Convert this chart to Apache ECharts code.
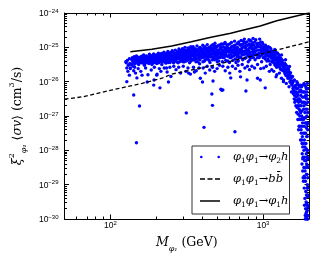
<!DOCTYPE html>
<html><head><meta charset="utf-8">
<script src="https://cdn.jsdelivr.net/npm/echarts@6/dist/echarts.min.js"></script>
<style>html,body{margin:0;padding:0;background:#fff}#c{width:317px;height:264px}</style>
</head><body><div id="c"></div>
<script>
// ---- data (mass in GeV, log10 of cross section in cm^3/s) ----
const xMajorTicks = [100, 1000];
const yMajorExponents = [-30, -29, -28, -27, -26, -25, -24];
const minorMantissas = [2, 3, 4, 5, 6, 7, 8, 9];
const xRange = [50, 2000];
const yUnitExp = -30; // y axis is drawn in units of 1e-30 cm^3/s

const phi1hLine = [[135,-25.127],[187,-25.057],[252,-24.961],[339,-24.836],[456,-24.708],[614,-24.591],[712,-24.516],[959,-24.379],[1230,-24.224],[1576,-24.108],[2000,-24.0]];
const bbLine = [[50,-26.51],[66,-26.44],[103,-26.24],[161,-26.05],[217,-25.9],[252,-25.78],[456,-25.54],[826,-25.27],[1360,-25.03],[2000,-24.84]];

const phi2hPoints = [
[126,-25.42],[127,-25.45],[128,-25.6],[128,-26.0],[129,-25.38],[130,-25.7],[131,-25.52],[133,-25.33],[134,-25.47],[135,-25.62],[133,-25.81],[135,-25.6],
[139,-25.3],[140,-25.42],[141,-25.55],[143,-25.27],[144,-25.38],[145,-25.48],[147,-25.33],[148,-25.25],[150,-25.43],[151,-25.36],[153,-25.5],[154,-25.29],[156,-25.4],[157,-25.34],[159,-25.45],[160,-25.26],[161,-25.38],[142,-25.68],[146,-25.75],[152,-25.62],[158,-25.7],[149,-25.89],[161,-25.81],
[138,-25.36],[142,-25.44],[146,-25.3],[149,-25.38],[152,-25.46],[155,-25.35],[158,-25.3],[160,-25.42],[137,-25.5],[144,-25.58],
[162,-25.32],[163,-25.42],[165,-25.22],[166,-25.36],[168,-25.48],[169,-25.3],[171,-25.4],[172,-25.25],[174,-25.34],[175,-25.45],[177,-25.28],[178,-25.38],[180,-25.2],[181,-25.33],[183,-25.43],[184,-25.27],[186,-25.36],[187,-25.5],[170,-25.6],[176,-25.8],[185,-25.66],[174,-26.01],
[164,-25.28],[167,-25.44],[170,-25.35],[173,-25.3],[176,-25.4],[179,-25.47],[182,-25.24],[185,-25.42],[187,-25.31],[167,-25.52],
[189,-25.25],[190,-25.38],[192,-25.19],[193,-25.31],[195,-25.44],[196,-25.27],[198,-25.36],[200,-25.22],[201,-25.47],[203,-25.3],[205,-25.4],[206,-25.17],[208,-25.34],[210,-25.26],[212,-25.42],[213,-25.21],[215,-25.32],[217,-25.5],[194,-25.58],[202,-25.78],[209,-25.62],[214,-25.7],[193,-25.95],[201,-25.81],[211,-26.18],
[188,-25.34],[191,-25.45],[194,-25.24],[197,-25.41],[199,-25.3],[204,-25.24],[207,-25.45],[211,-25.36],[214,-25.27],[216,-25.4],
[219,-25.2],[221,-25.33],[222,-25.42],[224,-25.14],[226,-25.28],[227,-25.37],[229,-25.23],[231,-25.46],[233,-25.17],[234,-25.3],[236,-25.39],[238,-25.12],[240,-25.25],[242,-25.35],[244,-25.2],[246,-25.44],[248,-25.15],[250,-25.29],[252,-25.38],[225,-25.6],[235,-25.72],[245,-25.58],[249,-25.85],[233,-25.6],[240,-26.01],
[218,-25.3],[223,-25.22],[228,-25.42],[230,-25.3],[232,-25.22],[237,-25.3],[239,-25.44],[241,-25.18],[243,-25.28],[247,-25.34],[251,-25.22],
[254,-25.1],[256,-25.22],[258,-25.33],[260,-25.42],[262,-25.16],[264,-25.27],[266,-25.08],[268,-25.36],[270,-25.2],[272,-25.3],[275,-25.12],[277,-25.45],[279,-25.24],[281,-25.05],[283,-25.34],[285,-25.18],[287,-25.28],[290,-25.1],[292,-25.4],[260,-25.55],[269,-25.65],[280,-25.58],[288,-25.75],
[255,-25.3],[257,-25.14],[259,-25.45],[263,-25.36],[265,-25.2],[267,-25.28],[271,-25.42],[274,-25.24],[276,-25.33],[278,-25.15],[282,-25.28],[284,-25.42],[286,-25.1],[289,-25.35],[291,-25.22],
[294,-25.22],[296,-25.04],[298,-25.32],[301,-25.14],[303,-25.26],[305,-25.42],[308,-25.0],[310,-25.18],[313,-25.3],[315,-25.08],[318,-25.37],[320,-25.2],[323,-25.02],[325,-25.27],[328,-25.12],[330,-25.45],[333,-25.22],[336,-24.98],[339,-25.33],[300,-25.55],[312,-25.7],[322,-25.6],[334,-25.78],[325,-25.75],[314,-26.91],
[295,-25.3],[297,-25.14],[299,-25.42],[302,-25.2],[304,-25.08],[307,-25.35],[309,-25.25],[311,-25.1],[314,-25.4],[317,-25.16],[319,-25.28],[322,-25.12],[324,-25.36],[327,-25.2],[329,-25.05],[331,-25.3],[335,-25.14],[337,-25.4],
[342,-25.1],[345,-25.25],[348,-24.98],[351,-25.36],[354,-25.16],[357,-25.04],[360,-25.28],[363,-25.42],[366,-25.12],[369,-24.96],[372,-25.22],[375,-25.32],[378,-25.06],[381,-25.18],[384,-25.48],[387,-25.0],[390,-25.26],[393,-25.14],[350,-25.58],[365,-25.68],[380,-25.6],[388,-25.9],[355,-25.72],
[340,-25.2],[344,-25.04],[346,-25.36],[349,-25.18],[352,-25.1],[356,-25.3],[359,-25.2],[362,-25.06],[365,-25.34],[368,-25.22],[371,-25.08],[374,-25.42],[377,-25.16],[380,-25.28],[383,-25.02],[386,-25.36],[389,-25.12],[392,-25.24],
[396,-25.04],[400,-25.2],[403,-24.94],[406,-25.3],[410,-25.1],[413,-25.4],[417,-24.98],[420,-25.16],[424,-25.26],[427,-25.06],[431,-24.92],[434,-25.34],[438,-25.12],[441,-25.22],[445,-25.0],[449,-25.44],[452,-25.18],[456,-24.96],[405,-25.6],[418,-25.75],[430,-25.55],[447,-25.66],[401,-26.01],[410,-27.33],
[398,-25.3],[401,-25.1],[404,-25.42],[408,-25.18],[411,-25.02],[415,-25.26],[419,-25.36],[422,-25.08],[426,-25.18],[429,-25.3],[432,-25.14],[436,-25.02],[439,-25.26],[443,-25.38],[447,-25.1],[450,-25.28],[454,-25.06],
[460,-25.1],[464,-25.28],[468,-24.92],[472,-25.2],[476,-25.04],[480,-25.36],[484,-24.88],[489,-25.14],[493,-25.24],[497,-24.98],[501,-25.42],[506,-25.08],[510,-25.3],[514,-24.94],[519,-25.18],[524,-25.02],[529,-25.26],[466,-25.58],[482,-25.7],[500,-25.62],[518,-25.52],[470,-25.98],[462,-26.36],[466,-26.69],[529,-26.22],[537,-26.25],
[458,-25.2],[462,-25.02],[466,-25.36],[470,-25.1],[474,-25.3],[478,-25.16],[482,-24.96],[486,-25.26],[491,-25.06],[495,-25.34],[499,-25.16],[503,-24.96],[508,-25.22],[512,-25.4],[516,-25.08],[521,-25.3],[526,-24.92],
[534,-24.9],[539,-25.12],[544,-25.3],[549,-24.98],[554,-25.2],[559,-25.06],[564,-24.86],[569,-25.38],[574,-25.15],[579,-25.0],[585,-25.26],[590,-24.92],[596,-25.1],[602,-25.44],[608,-25.04],[614,-25.22],[545,-25.55],[565,-25.68],[588,-25.58],[605,-25.75],[614,-25.89],[545,-26.24],
[531,-25.04],[536,-25.2],[541,-25.42],[546,-25.1],[551,-24.9],[556,-25.3],[561,-25.18],[566,-25.02],[571,-25.24],[577,-24.92],[582,-25.1],[587,-25.4],[593,-25.02],[599,-25.22],[605,-24.9],[611,-25.12],
[620,-24.86],[626,-25.08],[632,-25.26],[638,-24.96],[644,-25.16],[650,-24.82],[656,-25.34],[662,-25.02],[668,-25.2],[674,-24.9],[681,-25.12],[688,-25.4],[694,-24.84],[701,-25.06],[708,-25.28],[712,-24.94],[630,-25.55],[660,-25.62],[685,-25.52],[705,-25.7],[712,-25.86],[654,-27.46],
[617,-25.3],[623,-24.98],[629,-25.16],[635,-25.38],[641,-25.06],[647,-25.24],[653,-24.94],[659,-25.12],[665,-25.44],[671,-25.06],[677,-25.28],[684,-24.88],[690,-25.18],[697,-25.3],[704,-24.92],[710,-25.14],
[719,-24.8],[726,-25.02],[733,-25.22],[740,-24.9],[747,-25.12],[754,-24.76],[762,-25.32],[769,-25.0],[777,-25.18],[784,-24.84],[792,-25.08],[800,-25.42],[808,-24.78],[816,-25.26],[822,-24.96],[826,-25.14],[730,-25.5],[760,-25.6],[790,-25.55],[815,-25.65],[785,-25.95],[772,-26.27],
[715,-25.3],[722,-24.92],[729,-25.12],[736,-25.36],[743,-24.82],[750,-25.0],[758,-25.2],[765,-24.86],[773,-25.3],[780,-25.06],[788,-24.94],[796,-25.24],[804,-25.1],[812,-24.9],[819,-25.36],[824,-24.8],
[835,-24.82],[843,-25.04],[852,-25.24],[860,-24.74],[869,-24.94],[878,-25.14],[887,-25.36],[896,-24.78],[905,-25.0],[914,-25.2],[923,-24.88],[932,-25.08],[941,-25.3],[950,-24.76],[960,-24.98],[970,-25.16],[979,-25.42],[988,-24.86],[845,-25.55],[880,-25.6],[920,-25.5],[965,-25.62],[959,-25.95],[920,-25.9],
[830,-25.3],[839,-24.92],[847,-25.14],[856,-24.88],[864,-25.3],[873,-25.04],[882,-24.84],[891,-25.22],[900,-25.1],[909,-24.9],[918,-25.3],[927,-24.98],[936,-25.18],[946,-24.9],[955,-25.26],[965,-24.84],[974,-25.06],[984,-25.22],
[998,-24.9],[1008,-25.1],[1018,-25.28],[1028,-25.02],[1038,-24.94],[1048,-25.2],[1059,-25.4],[1070,-25.06],[1080,-24.98],[1091,-25.26],[1102,-25.14],[1113,-25.5],[1124,-25.04],[1135,-25.32],[1146,-25.2],[1010,-25.6],[1050,-25.55],[1100,-25.7],[1140,-25.65],[1033,-26.18],
[993,-25.04],[1003,-25.3],[1013,-24.98],[1023,-25.16],[1033,-25.34],[1043,-25.08],[1054,-25.0],[1064,-25.24],[1075,-25.34],[1086,-25.12],[1097,-25.4],[1108,-25.26],[1119,-25.2],[1130,-25.1],[1141,-25.42],
[1158,-25.12],[1170,-25.3],[1181,-25.46],[1193,-25.06],[1205,-25.22],[1216,-25.38],[1228,-25.58],[1240,-25.16],[1253,-25.3],[1266,-25.5],[1278,-25.24],[1291,-25.42],[1304,-25.64],[1317,-25.34],[1330,-25.52],[1175,-25.7],[1230,-25.8],[1280,-25.75],[1320,-25.9],[1216,-25.86],[1360,-26.0],
[1152,-25.24],[1164,-25.4],[1176,-25.18],[1187,-25.3],[1199,-25.52],[1210,-25.14],[1222,-25.46],[1234,-25.3],[1246,-25.44],[1259,-25.2],[1272,-25.38],[1284,-25.58],[1297,-25.3],[1310,-25.48],[1324,-25.66],
[1343,-25.38],[1357,-25.56],[1370,-25.7],[1384,-25.46],[1398,-25.62],[1411,-25.82],[1425,-25.54],[1440,-25.72],[1454,-25.9],[1468,-25.64],[1483,-25.8],[1498,-26.0],[1513,-25.74],[1528,-25.9],[1543,-26.1],[1360,-25.95],[1420,-26.05],[1480,-26.15],[1535,-26.3],
[1336,-25.48],[1350,-25.66],[1364,-25.5],[1377,-25.6],[1391,-25.76],[1404,-25.5],[1418,-25.7],[1432,-25.64],[1447,-25.84],[1461,-25.76],[1476,-25.7],[1490,-25.9],[1505,-25.86],[1520,-26.04],[1536,-25.98],
[140,-25.34],[145,-25.4],[150,-25.31],[156,-25.37],[162,-25.4],[168,-25.34],[174,-25.38],[180,-25.3],[186,-25.26],[192,-25.36],[198,-25.28],[205,-25.33],[212,-25.24],[219,-25.36],[226,-25.22],[233,-25.32],[240,-25.22],[248,-25.3],[256,-25.24],[264,-25.18],[272,-25.26],[281,-25.16],[290,-25.24],[299,-25.22],[308,-25.1],[318,-25.24],[328,-25.18],[338,-25.1],[348,-25.22],[359,-25.14],[370,-25.08],[381,-25.24],[393,-25.06],[405,-25.14],[418,-25.2],[431,-25.08],[444,-25.16],[458,-25.04],[472,-25.12],[487,-25.2],[502,-25.08],[517,-25.14],[533,-25.0],[549,-25.14],[566,-25.22],[583,-25.06],[601,-25.14],[620,-25.0],[639,-25.1],[659,-25.18],[679,-25.0],[700,-25.14],[722,-25.06],[744,-24.98],[767,-25.1],[790,-25.16],[814,-25.02],[839,-24.98],[865,-25.08],[891,-25.0],[918,-24.96],[946,-25.08],[975,-24.96],[1005,-25.18],[1036,-25.12],[1068,-25.16],[1101,-25.24],[1135,-25.14],[1170,-25.22],[1206,-25.3],[1243,-25.38],[1281,-25.34],[1320,-25.44],[1360,-25.58],[1402,-25.66],[1445,-25.62],[1490,-25.8],[1535,-25.84],
[143,-25.46],[153,-25.44],[165,-25.47],[178,-25.42],[190,-25.22],[203,-25.4],[216,-25.18],[230,-25.38],[245,-25.36],[261,-25.32],[277,-25.2],[295,-25.38],[313,-25.22],[333,-25.3],[354,-25.26],[376,-25.16],[399,-25.22],[423,-25.04],[449,-25.24],[477,-25.0],[507,-25.3],[539,-25.24],[572,-25.12],[607,-25.3],[645,-25.0],[685,-25.24],[727,-25.2],[772,-24.94],[820,-25.2],[870,-25.18],[923,-25.22],[980,-25.1],[1040,-25.26],[1105,-25.0],[1173,-25.36],[1245,-25.52],[1322,-25.22],[1403,-25.36],[1490,-25.56],
[1560,-25.85],[1575,-26.0],[1590,-26.15],[1605,-25.95],[1620,-26.3],[1635,-26.1],[1650,-26.45],[1580,-26.35],[1615,-26.6],[1570,-26.2],[1600,-26.5],[1640,-26.7],[1660,-26.9],
[1665,-26.0],[1680,-26.2],[1695,-26.4],[1710,-26.6],[1725,-26.8],[1740,-27.0],[1700,-26.1],[1730,-26.5],[1745,-27.3],[1690,-26.7],[1720,-27.1],[1670,-26.35],[1700,-26.95],[1750,-26.25],[1690,-27.1],[1710,-27.4],
[1760,-26.1],[1770,-26.4],[1780,-26.7],[1790,-27.0],[1800,-27.3],[1810,-27.6],[1820,-27.9],[1830,-28.2],[1765,-26.9],[1795,-26.6],[1815,-27.2],[1840,-27.5],[1850,-28.0],[1775,-27.4],[1805,-28.1],[1835,-26.3],[1845,-26.8],[1790,-26.15],[1830,-26.6],[1760,-27.7],[1780,-27.5],[1800,-27.8],[1840,-27.1],
[1860,-26.3],[1870,-26.6],[1880,-26.9],[1890,-27.2],[1900,-27.5],[1910,-27.8],[1920,-28.1],[1930,-28.4],[1940,-28.7],[1950,-29.0],[1960,-29.3],[1955,-29.6],[1945,-29.9],[1865,-27.7],[1875,-28.3],[1885,-28.6],[1895,-28.9],[1905,-29.2],[1915,-29.5],[1925,-29.8],[1935,-27.0],[1948,-27.6],[1958,-28.0],[1962,-28.5],[1908,-26.8],[1928,-26.5],[1890,-30.0],
[1870,-26.1],[1900,-26.4],[1920,-26.2],[1950,-26.5],[1960,-26.9],[1940,-26.3],[1860,-27.3],[1880,-27.9],[1910,-27.2],[1930,-27.6],[1950,-28.2],[1960,-27.4],
[1800,-28.4],[1820,-28.6],[1840,-28.9],[1860,-29.1],[1880,-29.4],[1900,-29.7],[1920,-29.95],[1940,-29.1],[1960,-28.8],[1955,-29.35],[1870,-28.2],[1850,-28.5],[1830,-28.8],[1910,-28.3],[1935,-28.0],[1950,-29.75],[1962,-29.9],[1890,-29.9],[1925,-29.3],
[1555,-26.05],[1585,-26.25],[1610,-26.4],[1630,-26.55],[1655,-26.2],[1675,-26.55],[1685,-26.05],[1715,-26.3],[1735,-26.7],[1755,-26.55],[1785,-26.3],[1810,-26.45],[1825,-27.05],[1855,-26.7],[1885,-26.45],[1915,-26.65],[1945,-26.8],[1958,-26.2],[1965,-27.2],[1895,-27.05],[1925,-27.35],[1870,-27.5],[1845,-27.8],[1915,-27.95],[1945,-28.45],[1900,-28.5],[1880,-28.8],[1965,-29.1],[1932,-29.55],[1910,-29.85],[1870,-29.6],[1858,-28.75],[1925,-28.7],[1965,-29.65],[1963,-30.0],[1940,-30.0],[1820,-28.25],[1790,-27.7],[1775,-27.1],[1745,-26.85],[1722,-27.3],[1800,-26.85],[1960,-28.25],[1945,-27.25],[1950,-26.05],[1905,-26.15],[1850,-26.45],
[1625,-26.15],[1648,-26.3],[1672,-26.75],[1705,-26.5],[1738,-26.15],[1768,-26.25],[1812,-26.1],[1858,-26.05],[1895,-26.3],[1932,-26.4],[1962,-26.6],
[142,-26.39],[155,-26.71],[148,-27.78],[192,-26.10]
];

// ---- build ----
const toVal = p => [p[0], Math.pow(10, p[1] - yUnitExp)];
const xMinor = [];
[10, 100, 1000].forEach(d => minorMantissas.forEach(m => { const v = m * d; if (v > xRange[0] && v < xRange[1]) xMinor.push(v); }));
const yMajor = yMajorExponents.map(e => Math.pow(10, e - yUnitExp));
const yMinor = [];
yMajorExponents.slice(0, -1).forEach(e => minorMantissas.forEach(m => yMinor.push(m * Math.pow(10, e - yUnitExp))));

const tickFont = 'Liberation Sans';
const labelRich = {
  b: { fontFamily: tickFont, fontSize: 8.5, color: '#000', lineHeight: 10, verticalAlign: 'bottom' },
  s: { fontFamily: tickFont, fontSize: 6, color: '#000', lineHeight: 10, verticalAlign: 'top' }
};
const xLabel = v => { const e = Math.round(Math.log10(v)); return '{b|10}{s|' + e + '}'; };
const yLabel = v => { const e = Math.round(Math.log10(v)) + yUnitExp; return '{b|10}{s|' + String(e).replace('-', '\u2212') + '}'; };

const serif = 'DejaVu Serif';
const nameRich = {
  i: { fontFamily: serif, fontStyle: 'italic', fontSize: 12.5, color: '#000', lineHeight: 20 },
  n: { fontFamily: serif, fontSize: 12.5, color: '#000', lineHeight: 20 },
  sup: { fontFamily: serif, fontSize: 8, color: '#000', lineHeight: 20, verticalAlign: 'top' },
  sub: { fontFamily: serif, fontStyle: 'italic', fontSize: 8, color: '#000', lineHeight: 20, verticalAlign: 'bottom' }
};
const legRich = {
  i: { fontFamily: serif, fontStyle: 'italic', fontSize: 11.5, color: '#000', lineHeight: 16 },
  n: { fontFamily: serif, fontSize: 11.5, color: '#000', lineHeight: 16 },
  s: { fontFamily: serif, fontSize: 7.5, color: '#000', lineHeight: 16, verticalAlign: 'bottom' }
};
const legendText = {
  'phi2h': '{i|\u03c6}{s|1}{i|\u03c6}{s|1}{n|\u2192}{i|\u03c6}{s|2}{i|h}',
  'bb': '{i|\u03c6}{s|1}{i|\u03c6}{s|1}{n|\u2192}{i|b}{i|b\u0304}',
  'phi1h': '{i|\u03c6}{s|1}{i|\u03c6}{s|1}{n|\u2192}{i|\u03c6}{s|1}{i|h}'
};

const axLine = { show: true, lineStyle: { color: '#000', width: 1 } };
function mkAx(range, fmt, margin) {
  return function (pos, ticks, len, showLine, label, extra) {
    return Object.assign({ type: 'log', logBase: 10, min: range[0], max: range[1], position: pos,
      axisLine: showLine ? axLine : { show: false },
      axisTick: { show: true, inside: true, length: len, customValues: ticks, lineStyle: { color: '#000', width: 1 } },
      axisLabel: label ? { show: true, customValues: ticks, formatter: fmt, rich: labelRich, margin: margin } : { show: false },
      splitLine: { show: false }, minorTick: { show: false } }, extra || {});
  };
}
const xAx = mkAx(xRange, xLabel, 1);
const yAx = mkAx([Math.pow(10, yMajorExponents[0] - yUnitExp), Math.pow(10, yMajorExponents[yMajorExponents.length - 1] - yUnitExp)], yLabel, 6);

const chart = echarts.init(document.getElementById('c'), null, { renderer: 'canvas' });
chart.setOption({
  animation: false,
  backgroundColor: '#fff',
  grid: { left: 61, right: 8, top: 13, bottom: 45, containLabel: false },
  xAxis: [
    xAx('bottom', xMajorTicks, 4.5, true, true, {
      name: '{i|M}{sub|\u03c6\u2081}{n| (GeV)}', nameLocation: 'middle', nameGap: 14,
      nameTextStyle: { rich: nameRich }
    }),
    xAx('bottom', xMinor, 2.5, false, false),
    xAx('top', xMajorTicks, 4.5, true, false),
    xAx('top', xMinor, 2.5, false, false)
  ],
  yAxis: [
    yAx('left', yMajor, 4.5, true, true, {
      name: '{i|\u03be}{sup|2}{sub|\u03c6\u2081}{n| \u27e8}{i|\u03c3v}{n|\u27e9 (cm}{sup|3}{n|/s)}', nameLocation: 'middle', nameGap: 31, nameRotate: 90,
      nameTextStyle: { rich: nameRich }
    }),
    yAx('left', yMinor, 2.5, false, false),
    yAx('right', yMajor, 4.5, true, false),
    yAx('right', yMinor, 2.5, false, false)
  ],
  legend: {
    orient: 'vertical', left: 192, top: 146,
    padding: [5, 1, 5, 8], itemGap: 8, itemWidth: 20, itemHeight: 12,
    backgroundColor: '#fff', borderColor: '#333', borderWidth: 1, borderRadius: 0,
    textStyle: { rich: legRich, padding: [0, 0, 0, 8] },
    formatter: n => legendText[n],
    data: [
      { name: 'phi2h', icon: 'path://M0,0M20,12M0,6a1.3,1.3 0 1,0 2.6,0a1.3,1.3 0 1,0 -2.6,0M17.4,6a1.3,1.3 0 1,0 2.6,0a1.3,1.3 0 1,0 -2.6,0', itemStyle: { color: '#0000ff' } },
      { name: 'bb', icon: 'path://M0,0M20,12M0,5.35h5v1.3h-5zM7.5,5.35h5v1.3h-5zM15,5.35h5v1.3h-5z', itemStyle: { color: '#000' } },
      { name: 'phi1h', icon: 'path://M0,0M20,12M0,5.25h20v1.5h-20z', itemStyle: { color: '#000' } }
    ]
  },
  series: [
    { name: 'phi2h', type: 'scatter', xAxisIndex: 0, yAxisIndex: 0, symbol: 'circle', symbolSize: 3.4,
      itemStyle: { color: '#0000ff', opacity: 1 }, data: phi2hPoints.map(toVal), z: 2, silent: true, large: false },
    { name: 'bb', type: 'line', xAxisIndex: 0, yAxisIndex: 0, symbol: 'none', showSymbol: false,
      lineStyle: { color: '#000', width: 1.3, type: [4, 2.5] }, itemStyle: { color: '#000' }, data: bbLine.map(toVal), z: 3 },
    { name: 'phi1h', type: 'line', xAxisIndex: 0, yAxisIndex: 0, symbol: 'none', showSymbol: false,
      lineStyle: { color: '#000', width: 1.5 }, itemStyle: { color: '#000' }, data: phi1hLine.map(toVal), z: 3 }
  ]
});
</script></body></html>
